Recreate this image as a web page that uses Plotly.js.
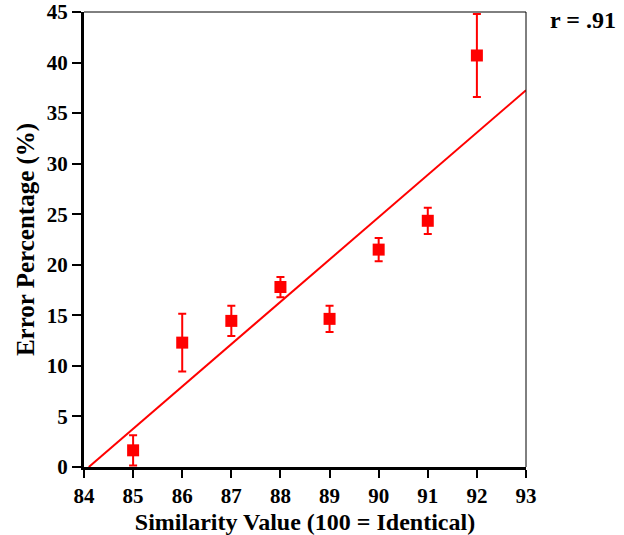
<!DOCTYPE html>
<html>
<head>
<meta charset="utf-8">
<script src="https://cdn.plot.ly/plotly-3.0.1.min.js"></script>
<style>html,body{margin:0;padding:0;background:#fff;}#chart{width:624px;height:535px;}</style>
</head>
<body>
<div id="chart"></div>
<script>
const similarity = [85, 86, 87, 88, 89, 90, 91, 92];
const errorPct = [1.65, 12.3, 14.45, 17.8, 14.65, 21.5, 24.35, 40.7];
const errorBar = [1.5, 2.85, 1.5, 1.0, 1.3, 1.15, 1.3, 4.1];
const xTicks = [84, 85, 86, 87, 88, 89, 90, 91, 92, 93];
const yTicks = [0, 5, 10, 15, 20, 25, 30, 35, 40, 45];

// least-squares regression line
const n = similarity.length;
const mx = similarity.reduce((a, b) => a + b, 0) / n;
const my = errorPct.reduce((a, b) => a + b, 0) / n;
let sxy = 0, sxx = 0;
for (let i = 0; i < n; i++) { sxy += (similarity[i] - mx) * (errorPct[i] - my); sxx += (similarity[i] - mx) ** 2; }
const slope = sxy / sxx, intercept = my - slope * mx;
const x0 = -intercept / slope, x1 = 93;
const fitX = [x0, x1], fitY = [0, slope * x1 + intercept];

const fam = '"Liberation Serif", "Times New Roman", serif';

const traces = [
  {x: fitX, y: fitY, mode: 'lines', line: {color: '#ff0000', width: 2}, hoverinfo: 'skip', cliponaxis: false},
  {x: similarity, y: errorPct, mode: 'markers', type: 'scatter',
   marker: {symbol: 'square', size: 12, color: '#ff0000'},
   error_y: {type: 'data', array: errorBar, visible: true, color: '#ff0000', thickness: 2, width: 4}}
];

const layout = {
  width: 624, height: 535,
  margin: {l: 84, r: 98, t: 12, b: 68},
  paper_bgcolor: '#fff', plot_bgcolor: '#fff',
  showlegend: false,
  font: {family: fam, color: '#000', size: 21},
  xaxis: {range: [84, 93], tickmode: 'array', tickvals: xTicks, ticktext: xTicks.map(v => '<b>' + v + '</b>'),
    showgrid: false, zeroline: false, showline: true, linecolor: '#000', linewidth: 3,
    ticks: 'outside', ticklen: 8, tickwidth: 2, tickcolor: '#000', ticklabeloverflow: 'allow',
    tickfont: {family: fam, size: 21, color: '#000'},
    title: {text: '<b>Similarity Value (100 = Identical)</b>', font: {family: fam, size: 24, color: '#000'}, standoff: 6}},
  yaxis: {range: [0, 45], tickmode: 'array', tickvals: yTicks, ticktext: yTicks.map(v => '<b>' + v + '</b>'),
    showgrid: false, zeroline: false, showline: true, linecolor: '#000', linewidth: 3,
    ticks: 'outside', ticklen: 9, tickwidth: 2, tickcolor: '#000', ticklabeloverflow: 'allow',
    tickfont: {family: fam, size: 21, color: '#000'},
    title: {text: '<b>Error Percentage (%)</b>', font: {family: fam, size: 25, color: '#000'}, standoff: 6}},
  shapes: [
    {type: 'line', xref: 'paper', yref: 'paper', x0: 0, x1: 1, y0: 1, y1: 1, line: {color: '#000', width: 1}},
    {type: 'line', xref: 'paper', yref: 'paper', x0: 1, x1: 1, y0: 0, y1: 1, line: {color: '#000', width: 1}}
  ],
  annotations: [
    {text: '<b>r = .91</b>', xref: 'paper', yref: 'paper', x: 1.05, y: 0.983, xanchor: 'left', yanchor: 'middle',
     showarrow: false, font: {family: fam, size: 24, color: '#000'}}
  ]
};

Plotly.newPlot('chart', traces, layout, {displayModeBar: false, staticPlot: true});
</script>
</body>
</html>
